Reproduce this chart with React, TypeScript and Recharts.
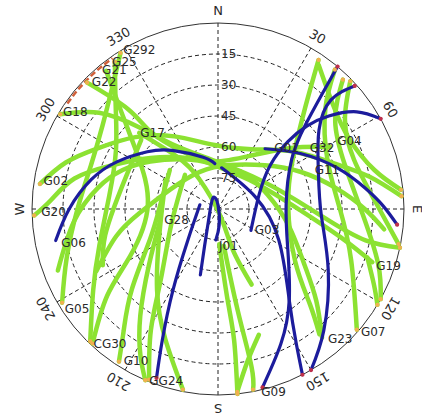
import React from "react";
import {
  ScatterChart,
  Scatter,
  XAxis,
  YAxis,
  RadarChart,
  Radar,
  PolarGrid,
  PolarAngleAxis,
  PolarRadiusAxis,
} from "recharts";

const W = 422;
const H = 414;
const CX = 218;
const CY = 209;
const R = 186;

const AZ_LABELS = ["N", "30", "60", "E", "120", "150", "S", "210", "240", "W", "300", "330"];
const ELEV_RINGS = [75, 60, 45, 30, 15];

// satellite tracks, [azimuth, elevation] in degrees
const trkG29 = [[328, 1], [319, 12], [306, 21], [289, 25], [270, 22], [252, 13], [239, 2]];
const trkG25 = [[325, 3], [315, 20], [300, 33], [277, 37], [253, 30], [237, 18], [224, 1]];
const trkG21 = [[321, 4], [315, 24], [304, 43], [273, 56], [242, 42], [232, 22], [223, 1]];
const trkG22 = [[314, 2], [318, 25], [319, 41], [328, 57], [356, 69], [55, 68], [91, 50], [103, 29], [109, 11]];
const trkG18 = [[301, 1], [309, 16], [316, 35], [326, 53], [353, 66], [47, 67], [81, 54], [96, 36], [102, 17], [102, 0]];
const trkG02 = [[278, 3], [287, 13], [297, 25], [311, 37], [329, 49], [357, 59], [32, 56], [53, 44], [69, 29], [78, 15], [86, 1]];
const trkG20 = [[268, 1], [273, 9], [282, 19], [292, 34], [307, 49], [331, 62], [356, 67], [31, 60], [50, 44], [61, 28]];
const trkG17 = [[314, 37], [322, 58], [328, 73], [162, 87], [160, 69], [156, 50]];
const trkG23 = [[249, 7], [265, 20], [280, 31], [292, 40], [305, 50], [326, 61], [354, 68], [38, 69], [74, 65], [103, 55], [123, 40], [133, 25], [141, 10]];
const arcA = [[243, 24], [255, 39], [267, 52], [292, 65], [334, 70], [15, 68], [47, 59], [66, 46], [80, 32], [90, 19], [97, 9]];
const arcB = [[312, 40], [281, 42], [257, 34], [244, 28]];
const arcC = [[178, 73], [174, 46], [173, 26], [174, 0]];
const arcD = [[171, 72], [169, 40], [168, 12], [169, 1]];
const arcE = [[162, 26], [169, 15], [174, 1]];
const arcF = [[299, 61], [250, 60], [217, 41], [202, 22], [191, 1]];
const trkG24 = [[316, 67], [251, 66], [219, 46], [209, 23], [202, 1]];
const arcG = [[34, 3], [41, 26], [57, 47], [87, 56], [124, 45], [136, 26], [141, 12]];
const trkG07 = [[40, 2], [47, 19], [66, 32], [90, 31], [111, 21], [131, 1]];
const arcH = [[44, 3], [53, 19], [71, 25], [92, 20], [109, 8], [119, 0]];
const arcI = [[46, 1], [55, 15], [70, 20], [87, 14], [101, 1]];
const arcJ = [[35, 5], [48, 15], [62, 18], [76, 12], [84, 1]];
const trkG19 = [[108, 14], [116, 6], [121, 0]];
const trkG28 = [[261, 62], [231, 47], [216, 26], [208, 10], [203, 0]];
const trkG10 = [[309, 60], [274, 62], [246, 54], [227, 33], [218, 16], [213, 2]];

const trkG06 = [[259, 10], [270, 18], [283, 27], [295, 36], [309, 46], [322, 54], [344, 64], [356, 68]];
const trkG03 = [[61, 0], [55, 8], [50, 20], [47, 31], [46, 43], [50, 57], [71, 69], [123, 71]];
const trkG09 = [[40, 0], [42, 14], [46, 31], [56, 47], [87, 57], [120, 51], [142, 34], [155, 18], [166, 1]];
const arcK = [[5, 70], [72, 71], [117, 57], [142, 34], [150, 14], [153, 0]];
const arcL = [[48, 1], [46, 14], [52, 28], [69, 38], [93, 40], [119, 29], [139, 12], [150, 0]];
const trkG11 = [[38, 53], [56, 42], [71, 29], [82, 18], [89, 10], [95, 3]];
const arcM = [[283, 81], [224, 69], [209, 45], [203, 21], [200, 3]];
const trkJ01 = [[195, 57], [200, 71], [236, 85], [337, 84], [0, 88], [176, 82], [184, 75]];

const edgeNW = [[305, 1], [310, 1], [315, 1], [320, 1], [325, 1]];

// label text anchor: [name, azimuth, elevation]
const SAT_LABELS: [string, number, number][] = [
  ["G292", 329, 0], ["G25", 324, 2], ["G21", 320, 2], ["G22", 315, 3], ["G18", 302, 1],
  ["G17", 314, 37], ["G02", 279, 4], ["G20", 269, 4], ["G06", 258, 12], ["G05", 237, 1],
  ["CG30", 223, 1], ["G10", 212, 3], ["GG24", 202, 0], ["G28", 259, 63], ["J01", 180, 72],
  ["G03", 120, 70], ["G01", 42, 50], ["G32", 56, 37], ["G04", 60, 24], ["G11", 68, 40],
  ["G19", 110, 9], ["G07", 131, -1], ["G23", 140, 8], ["G09", 167, -1],
];

const GREEN = "#8ce232";
const BLUE = "#1c1c9c";
const TXT = "#2a2a2a";
const FONT = "DejaVu Sans, sans-serif";

const greenTracks = [
  trkG29, trkG25, trkG21, trkG22, trkG18, trkG02, trkG20, trkG17, trkG23, arcA, arcB,
  arcC, arcD, arcE, arcF, trkG24, arcG, trkG07, arcH, arcI, arcJ, trkG19, trkG28, trkG10,
];
const blueTracks = [trkG06, trkG03, trkG09, arcK, arcL, trkG11, arcM, trkJ01];

const toXY = (p: number[]) => {
  const r = 90 - p[1];
  const a = (p[0] * Math.PI) / 180;
  return { x: r * Math.sin(a), y: r * Math.cos(a) };
};

const endDots: { x: number; y: number; c: string }[] = [];
const addEnds = (list: number[][][], c: string) =>
  list.forEach((t) => {
    [t[0], t[t.length - 1]].forEach((p) => {
      if (p[1] <= 3) endDots.push({ ...toXY(p), c });
    });
  });
addEnds(greenTracks, "#f0b050");
addEnds(blueTracks, "#c0304a");

const labelData = SAT_LABELS.map(([name, az, el]) => ({ ...toXY([az, el]), name }));
const ringData = ELEV_RINGS.map((el) => ({ ...toXY([0, el]), name: String(el) }));
const gridData = AZ_LABELS.map((d) => ({ dir: d, v: 0 }));

const NoDot = () => <g />;
const DotShape = (p: any) => <circle cx={p.cx} cy={p.cy} r={2.1} fill={p.payload.c} />;
const LabelShape = (p: any) => (
  <text x={p.cx + 1} y={p.cy} dominantBaseline="central" fontFamily={FONT} fontSize={12} fill={TXT}>
    {p.payload.name}
  </text>
);
const RingShape = (p: any) => (
  <text x={p.cx + 3} y={p.cy} dominantBaseline="central" fontFamily={FONT} fontSize={12} fill={TXT}>
    {p.payload.name}
  </text>
);

const AzTick = (props: any) => {
  const { x, y, payload } = props;
  const rot = AZ_LABELS.indexOf(payload.value) * 30;
  return (
    <text
      x={x}
      y={y}
      transform={`rotate(${rot}, ${x}, ${y})`}
      textAnchor="middle"
      dominantBaseline="central"
      fontFamily={FONT}
      fontSize={13}
      fill={TXT}
    >
      {payload.value}
    </text>
  );
};

export default function App() {
  return (
    <div style={{ position: "absolute", left: 0, top: 0, width: W, height: H, background: "#fff" }}>
      <div style={{ position: "absolute", left: 0, top: 0 }}>
        <RadarChart
          width={W}
          height={H}
          data={gridData}
          cx={CX}
          cy={CY}
          outerRadius={R}
          margin={{ top: 0, right: 0, bottom: 0, left: 0 }}
        >
          <PolarGrid
            gridType="circle"
            polarRadius={ELEV_RINGS.map((el) => ((90 - el) / 90) * R)}
            stroke="#222"
            strokeDasharray="4 3"
          />
          <PolarAngleAxis
            dataKey="dir"
            axisLineType="circle"
            axisLine={{ stroke: "#333" }}
            tickLine={false}
            tickSize={13}
            tick={AzTick}
          />
          <PolarRadiusAxis domain={[0, 90]} type="number" tick={false} axisLine={false} />
          <Radar dataKey="v" stroke="none" fill="none" isAnimationActive={false} />
        </RadarChart>
      </div>
      <div style={{ position: "absolute", left: 0, top: 0 }}>
        <ScatterChart width={W} height={H} margin={{ top: 23, right: 18, bottom: 19, left: 32 }}>
          <XAxis type="number" dataKey="x" domain={[-90, 90]} hide />
          <YAxis type="number" dataKey="y" domain={[-90, 90]} hide />
          <Scatter
            data={edgeNW.map(toXY)}
            fill="#d0603a"
            shape={NoDot}
            line={{ stroke: "#d0603a", strokeWidth: 2.5, strokeDasharray: "6 3" }}
            lineJointType="natural"
            isAnimationActive={false}
          />
          {greenTracks.map((t, i) => (
            <Scatter
              key={"g" + i}
              data={t.map(toXY)}
              fill={GREEN}
              shape={NoDot}
              line={{ stroke: GREEN, strokeWidth: 4.5, strokeLinecap: "round", strokeLinejoin: "round" }}
              lineJointType="natural"
              isAnimationActive={false}
            />
          ))}
          {blueTracks.map((t, i) => (
            <Scatter
              key={"b" + i}
              data={t.map(toXY)}
              fill={BLUE}
              shape={NoDot}
              line={{ stroke: BLUE, strokeWidth: 3.2, strokeLinecap: "round", strokeLinejoin: "round" }}
              lineJointType="natural"
              isAnimationActive={false}
            />
          ))}
          <Scatter data={endDots} shape={DotShape} isAnimationActive={false} />
          <Scatter data={labelData} shape={LabelShape} isAnimationActive={false} />
          <Scatter data={ringData} shape={RingShape} isAnimationActive={false} />
        </ScatterChart>
      </div>
    </div>
  );
}
